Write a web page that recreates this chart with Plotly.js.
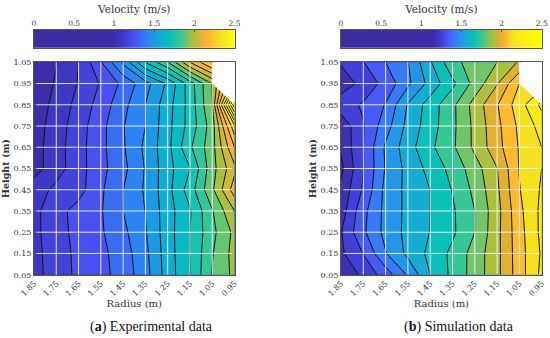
<!DOCTYPE html>
<html><head><meta charset="utf-8">
<script src="https://cdn.plot.ly/plotly-3.0.1.min.js"></script>
<style>html,body{margin:0;padding:0;background:#fff}#c{width:550px;height:338px}</style>
</head><body><div id="c"></div>
<script>
const radius=[1.85,1.75,1.65,1.55,1.45,1.35,1.25,1.15,1.05,0.95];
const height=[0.05,0.15,0.25,0.35,0.45,0.55,0.65,0.75,0.85,0.95,1.05];
const radiusLabels=['1.85','1.75','1.65','1.55','1.45','1.35','1.25','1.15','1.05','0.95'];
const heightLabels=['0.05','0.15','0.25','0.35','0.45','0.55','0.65','0.75','0.85','0.95','1.05'];
const barTicks=[0,0.5,1,1.5,2,2.5];
const noDataX=[1.05,0.95,0.95,1.05];
const noDataY=[1.05,1.05,0.85,0.95];
const experimental=[
[1.091,1.16,1.217,1.256,1.312,1.41,1.557,1.676,1.847,1.94],
[1.094,1.163,1.219,1.259,1.32,1.42,1.561,1.68,1.834,1.95],
[1.098,1.169,1.225,1.27,1.34,1.434,1.565,1.68,1.818,1.94],
[1.098,1.172,1.229,1.273,1.36,1.442,1.565,1.672,1.833,2.0],
[1.08,1.14,1.17,1.267,1.359,1.451,1.572,1.72,1.905,2.12],
[1.008,1.085,1.168,1.255,1.337,1.446,1.571,1.677,1.89,2.06],
[1.007,1.086,1.17,1.256,1.351,1.457,1.575,1.747,1.89,2.16],
[1.0,1.08,1.163,1.255,1.355,1.44,1.574,1.71,1.88,2.3],
[0.99,1.066,1.146,1.233,1.335,1.44,1.566,1.71,1.92,2.7],
[0.975,1.05,1.125,1.207,1.30,1.41,1.535,1.72,1.925,null],
[0.96,1.036,1.12,1.272,1.456,1.682,1.835,2.08,2.25,null]];
const simulation=[
[1.13,1.22,1.317,1.45,1.60,1.70,1.794,1.899,2.043,2.18],
[1.185,1.283,1.435,1.54,1.62,1.70,1.793,1.898,2.046,2.17],
[1.195,1.346,1.465,1.543,1.602,1.666,1.76,1.898,2.05,2.18],
[1.16,1.337,1.463,1.541,1.601,1.668,1.76,1.892,2.06,2.18],
[1.14,1.29,1.464,1.541,1.601,1.684,1.78,1.905,2.076,2.17],
[1.10,1.28,1.446,1.545,1.625,1.707,1.803,1.918,2.085,2.16],
[1.13,1.28,1.452,1.566,1.663,1.746,1.858,1.971,2.087,2.16],
[1.14,1.276,1.404,1.545,1.644,1.741,1.86,1.979,2.097,2.19],
[1.25,1.288,1.365,1.527,1.638,1.741,1.872,1.995,2.124,2.26],
[1.15,1.228,1.306,1.422,1.548,1.661,1.788,1.914,2.08,null],
[1.21,1.277,1.36,1.437,1.591,1.735,1.796,1.84,1.93,null]];
const scaleA=[[0,'#3b2ca0'],[0.4,'#3c2ca8'],[0.44,'#3d38c8'],[0.5,'#4a50f0'],[0.56,'#2f80f5'],[0.62,'#10a8d8'],[0.68,'#08c0b8'],[0.74,'#40c890'],[0.79,'#a8c040'],[0.86,'#ffb030'],[0.93,'#f5e020'],[1,'#ffff00']];
const scaleB=[[0,'#3b2ca0'],[0.46,'#3c2ca8'],[0.5,'#4040d8'],[0.54,'#4a60f8'],[0.58,'#2f88f5'],[0.62,'#18a8d8'],[0.66,'#08c0b8'],[0.7,'#40c890'],[0.755,'#a8c040'],[0.79,'#e0b030'],[0.82,'#ffb830'],[0.85,'#f5e020'],[0.9,'#fbee18'],[1,'#ffff00']];

const W=550,H=338,GR='#555';
const fx=p=>p/W, fy=p=>1-p/H;
const FAM='"DejaVu Serif",serif', TXT='#333';
const font={family:FAM,color:TXT,size:9};
const panels=[{l:34,r:234.5,z:experimental,cs:scaleA,capX:151,cap:'<b>a</b>',capT:') Experimental data'},
              {l:341,r:541.7,z:simulation,cs:scaleB,capX:459,cap:'<b>b</b>',capT:') Simulation data'}];
const traces=[],layout={width:W,height:H,margin:{l:0,r:0,t:0,b:0},paper_bgcolor:'#fff',plot_bgcolor:'#fff',showlegend:false,font,shapes:[],annotations:[]};
const grad=[];for(let i=0;i<=250;i++)grad.push(i/100);
panels.forEach((p,k)=>{
  const xa='x'+(k===0?'':k*2+1), ya='y'+(k===0?'':k*2+1);
  const xb='x'+(k*2+2), yb='y'+(k*2+2);
  traces.push({type:'contour',x:radius,y:height,z:p.z,xaxis:xa,yaxis:ya,zmin:0,zmax:2.5,zauto:false,colorscale:p.cs,showscale:false,autocontour:false,
    contours:{start:0,end:3.2,size:0.08,coloring:'fill',showlines:true},line:{color:'#111',width:1,smoothing:0},hoverinfo:'skip'});
  traces.push({type:'scatter',mode:'none',x:noDataX,y:noDataY,xaxis:xa,yaxis:ya,fill:'toself',fillcolor:'#fff',hoverinfo:'skip'});
  traces.push({type:'heatmap',x:grad,y:[0,1],z:[grad,grad],xaxis:xb,yaxis:yb,zmin:0,zmax:2.5,zauto:false,colorscale:p.cs,showscale:false,zsmooth:'fast',hoverinfo:'skip'});
  const ax=s=>s.replace('x','xaxis').replace('y','yaxis');
  const frame={showline:true,mirror:true,linecolor:GR,linewidth:1,showgrid:false,zeroline:false};
  layout[ax(xa)]=Object.assign({},frame,{domain:[fx(p.l),fx(p.r)],anchor:ya,range:[1.85,0.95],tickmode:'array',tickvals:radius,ticktext:radiusLabels,tickangle:-45,ticks:'inside',ticklen:2,tickcolor:GR,tickfont:{size:8,family:FAM,color:TXT},
    title:{text:'Radius (m)',font:{size:10,family:FAM,color:TXT},standoff:2}});
  layout[ax(ya)]=Object.assign({},frame,{domain:[fy(274.7),fy(62.3)],anchor:xa,range:[0.05,1.05],tickmode:'array',tickvals:height,ticktext:heightLabels,ticks:'inside',ticklen:2,tickcolor:GR,tickfont:{size:8,family:FAM,color:TXT},
    title:{text:'<b>Height (m)</b>',font:{size:9.5,family:FAM,color:TXT},standoff:2}});
  layout[ax(xb)]=Object.assign({},frame,{domain:[fx(p.l),fx(p.r)],anchor:yb,side:'top',range:[0,2.5],tickmode:'array',tickvals:barTicks,ticktext:barTicks.map(String),ticks:'inside',ticklen:2,tickcolor:GR,tickfont:{size:7.5,family:FAM,color:TXT},
    title:{text:'Velocity (m/s)',font:{size:10.5,family:FAM,color:TXT},standoff:3}});
  layout[ax(yb)]=Object.assign({},frame,{domain:[fy(47.7),fy(30)],anchor:xb,range:[0,1],showticklabels:false,ticks:''});
  radius.slice(1,-1).forEach(v=>layout.shapes.push({type:'line',layer:'above',xref:xa,yref:ya+' domain',x0:v,x1:v,y0:0,y1:1,line:{color:'rgba(255,255,255,0.85)',width:1}}));
  height.slice(1,-1).forEach(v=>layout.shapes.push({type:'line',layer:'above',xref:xa+' domain',yref:ya,x0:0.012,x1:0.988,y0:v,y1:v,line:{color:'rgba(255,255,255,0.85)',width:1}}));
  layout.annotations.push({xref:'paper',yref:'paper',x:fx(p.capX),y:fy(327),xanchor:'center',yanchor:'middle',showarrow:false,text:'('+p.cap+p.capT,font:{size:14,family:'"Liberation Serif",serif',color:'#111'}});
});
Plotly.newPlot('c',traces,layout,{displayModeBar:false,staticPlot:true});
</script></body></html>
